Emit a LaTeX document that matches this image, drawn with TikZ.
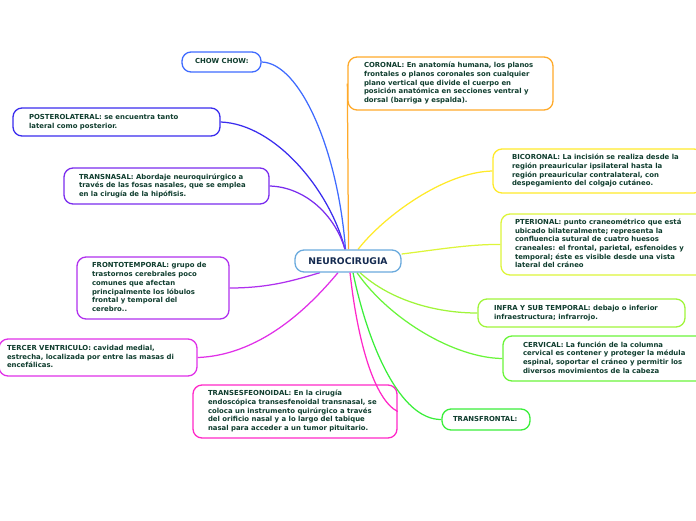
\documentclass[tikz,border=0pt]{standalone}
\usepackage{fontspec}
\setmainfont{DejaVu Sans}
\usetikzlibrary{backgrounds}
\definecolor{txt}{HTML}{0F3D2E}
\definecolor{navy}{HTML}{142A50}
\definecolor{ccent}{HTML}{6AAADD}
\definecolor{cchow}{HTML}{3F6BFF}
\definecolor{cpost}{HTML}{3A2CEE}
\definecolor{cnasal}{HTML}{7A2CEE}
\definecolor{cfront}{HTML}{B030EE}
\definecolor{cterc}{HTML}{E030E8}
\definecolor{cesf}{HTML}{FF28C8}
\definecolor{ccor}{HTML}{FFAA2A}
\definecolor{cbic}{HTML}{FFEA2A}
\definecolor{cpter}{HTML}{DDF53A}
\definecolor{cinfra}{HTML}{A0F53A}
\definecolor{ccerv}{HTML}{6AF53A}
\definecolor{ctfr}{HTML}{3AEE3A}
\newcommand\btext[2]{\makebox[#1][l]{\begin{tabular}{@{}l@{}}#2\end{tabular}}}
\tikzset{
  topic/.style={draw, fill=white, rounded corners=9pt, line width=1.3pt, inner ysep=0pt,
    font=\bfseries\fontsize{6.9}{8.7}\selectfont, text=txt, anchor=center},
  link/.style={line width=1.25pt},
}
\begin{document}
\begin{tikzpicture}[x=1pt,y=-1pt]
\useasboundingbox (0,0) rectangle (696,520);

\node[draw=ccent, fill=white, rounded corners=9pt, line width=1.3pt, minimum width=106pt, minimum height=22pt,
  font=\bfseries\fontsize{9.2}{11}\selectfont, text=navy] (c) at (348,261) {NEUROCIRUGIA};

\node[topic, draw=cchow, minimum height=20pt, inner xsep=13pt] (chow) at (221.5,62)
  {\btext{53pt}{CHOW CHOW:}};
\node[topic, draw=cpost, minimum height=28pt, inner xsep=16pt] (post) at (116.5,122)
  {\btext{175pt}{POSTEROLATERAL: se encuentra tanto\\lateral como posterior.}};
\node[topic, draw=cnasal, minimum height=36pt, inner xsep=15pt] (nasal) at (166.5,186)
  {\btext{175pt}{TRANSNASAL: Abordaje neuroquirúrgico a\\través de las fosas nasales, que se emplea\\en la cirugía de la hipófisis.}};
\node[topic, draw=cfront, minimum height=62pt, inner xsep=15pt] (front) at (153,288)
  {\btext{122pt}{FRONTOTEMPORAL: grupo de\\trastornos cerebrales poco\\comunes que afectan\\principalmente los lóbulos\\frontal y temporal del\\cerebro..}};
\node[topic, draw=cterc, minimum height=37pt, inner xsep=8pt] (terc) at (98,357.5)
  {\btext{182pt}{TERCER VENTRICULO: cavidad medial,\\estrecha, localizada por entre las masas di\\encefálicas.}};
\node[topic, draw=cesf, minimum height=53pt, inner xsep=15pt] (esf) at (295,411.5)
  {\btext{174pt}{TRANSESFEONOIDAL: En la cirugía\\endoscópica transesfenoidal transnasal, se\\coloca un instrumento quirúrgico a través\\del orificio nasal y a lo largo del tabique\\nasal para acceder a un tumor pituitario.}};
\node[topic, draw=ccor, minimum height=53pt, inner xsep=16pt] (cor) at (450.5,83.5)
  {\btext{173pt}{CORONAL: En anatomía humana, los planos\\frontales o planos coronales son cualquier\\plano vertical que divide el cuerpo en\\posición anatómica en secciones ventral y\\dorsal (barriga y espalda).}};
\node[topic, draw=cbic, minimum height=44pt, inner xsep=19pt] (bic) at (598,171)
  {\btext{172pt}{BICORONAL: La incisión se realiza desde la\\región preauricular ipsilateral hasta la\\región preauricular contralateral, con\\despegamiento del colgajo cutáneo.}};
\node[topic, draw=cpter, minimum height=61pt, inner xsep=14pt] (pter) at (603,244.5)
  {\btext{176pt}{PTERIONAL: punto craneométrico que está\\ubicado bilateralmente; representa la\\confluencia sutural de cuatro huesos\\craneales: el frontal, parietal, esfenoides y\\temporal; éste es visible desde una vista\\lateral del cráneo}};
\node[topic, draw=cinfra, minimum height=28pt, inner xsep=16pt] (infra) at (581.5,313)
  {\btext{175pt}{INFRA Y SUB TEMPORAL: debajo o inferior\\infraestructura; infrarrojo.}};
\node[topic, draw=ccerv, minimum height=45pt, inner xsep=20pt] (cerv) at (604,358.5)
  {\btext{162pt}{CERVICAL: La función de la columna\\cervical es contener y proteger la médula\\espinal, soportar el cráneo y permitir los\\diversos movimientos de la cabeza}};
\node[topic, draw=ctfr, minimum height=21pt, inner xsep=11pt] (tfr) at (486,419.5)
  {\btext{66pt}{TRANSFRONTAL:}};

\begin{scope}[on background layer]
\draw[link, cchow] (chow.east) .. controls (300,63) and (338,150) .. ([xshift=-2.5pt]c.north);
\draw[link, cpost] (post.east) .. controls (275,124) and (330,190) .. ([xshift=-3pt]c.north);
\draw[link, cnasal] (nasal.east) .. controls (305,187) and (335,215) .. ([xshift=-3pt]c.north);
\draw[link, cfront] (front.east) .. controls (270,288) and (295,280) .. ([xshift=-28pt]c.south);
\draw[link, cterc] (terc.east) .. controls (265,355) and (315,300) .. ([xshift=-10pt]c.south);
\draw[link, ccor] (cor.west) -- ([xshift=0.5pt]c.north);
\draw[link, cbic] (bic.west) .. controls (445,172) and (385,215) .. ([xshift=10pt]c.north);
\draw[link, cpter] (pter.west) .. controls (470,244) and (435,250) .. ([yshift=7pt]c.east);
\draw[link, cinfra] (infra.west) .. controls (435,313) and (390,300) .. ([xshift=12pt]c.south);
\draw[link, ccerv] (cerv.west) .. controls (455,358) and (390,320) .. ([xshift=9pt]c.south);
\draw[link, ctfr] (tfr.west) .. controls (400,420) and (368,345) .. ([xshift=5pt]c.south);
\end{scope}
\draw[link, cesf] ([xshift=2pt]c.south) .. controls (358,345) and (375,400) .. (esf.east);
\end{tikzpicture}
\end{document}
